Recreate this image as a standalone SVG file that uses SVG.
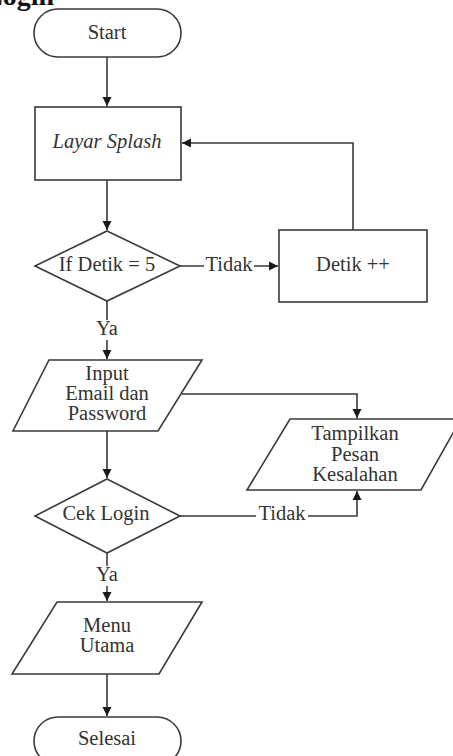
<svg xmlns="http://www.w3.org/2000/svg" width="453" height="756" viewBox="0 0 453 756">
<style>
.s{fill:#fff;stroke:#3a3a3a;stroke-width:1.6}
.c{fill:none;stroke:#3a3a3a;stroke-width:1.6}
text{font-family:"Liberation Serif","Times New Roman",serif;font-size:20.5px;fill:#333;text-anchor:middle}
.lb{fill:#fff;stroke:none}
</style>
<defs>
<marker id="ah" markerWidth="10" markerHeight="10" refX="9" refY="5" orient="auto" markerUnits="userSpaceOnUse">
<path d="M0,0.5 L9,5 L0,9.5 Z" fill="#1a1a1a"/>
</marker>
</defs>
<rect width="453" height="756" fill="#fff"/>
<text x="-16" y="5" style="font-size:28px;font-weight:bold;text-anchor:start;fill:#111">Login</text>
<g id="connectors">
<path class="c" d="M107 57 V106" marker-end="url(#ah)"/>
<path class="c" d="M107 180 V230" marker-end="url(#ah)"/>
<path class="c" d="M180 266 H278" marker-end="url(#ah)"/>
<path class="c" d="M353 230 V143 H182" marker-end="url(#ah)"/>
<path class="c" d="M107 301 V359" marker-end="url(#ah)"/>
<path class="c" d="M182 394 H357 V418" marker-end="url(#ah)"/>
<path class="c" d="M107 431 V478" marker-end="url(#ah)"/>
<path class="c" d="M180 516 H357 V491" marker-end="url(#ah)"/>
<path class="c" d="M107 553 V601" marker-end="url(#ah)"/>
<path class="c" d="M107 674 V716" marker-end="url(#ah)"/>
<rect class="lb" x="204" y="256" width="50" height="20"/>
<text x="229" y="271">Tidak</text>
<rect class="lb" x="95" y="320" width="24" height="20"/>
<text x="107" y="335">Ya</text>
<rect class="lb" x="256" y="506" width="52" height="20"/>
<text x="282" y="520">Tidak</text>
<rect class="lb" x="95" y="566" width="24" height="20"/>
<text x="107" y="581">Ya</text>
</g>
<g id="start">
<rect class="s" x="34" y="9" width="147" height="48" rx="24" ry="24"/>
<text x="107" y="39">Start</text>
</g>
<g id="layar-splash">
<rect class="s" x="35" y="107" width="146" height="73"/>
<text x="107" y="148" style="font-style:italic">Layar Splash</text>
</g>
<g id="if-detik">
<polygon class="s" points="107,231 180,266 107,301 35,266"/>
<text x="107" y="271">If Detik = 5</text>
</g>
<g id="detik-inc">
<rect class="s" x="279" y="230" width="148" height="72"/>
<text x="353" y="271">Detik ++</text>
</g>
<g id="input">
<polygon class="s" points="49,360 202,360 158,431 13,431"/>
<text x="107" y="380">Input</text>
<text x="107" y="400">Email dan</text>
<text x="107" y="420">Password</text>
</g>
<g id="tampilkan">
<polygon class="s" points="290,419 461,419 421,490 247,490"/>
<text x="355" y="440">Tampilkan</text>
<text x="355" y="461">Pesan</text>
<text x="355" y="481">Kesalahan</text>
</g>
<g id="cek-login">
<polygon class="s" points="107,479 180,516 107,553 35,516"/>
<text x="106" y="520">Cek Login</text>
</g>
<g id="menu-utama">
<polygon class="s" points="57,602 202,602 159,674 12,674"/>
<text x="107" y="632">Menu</text>
<text x="107" y="652">Utama</text>
</g>
<g id="selesai">
<rect class="s" x="34" y="717" width="147" height="48" rx="24" ry="24"/>
<text x="107" y="745">Selesai</text>
</g>
</svg>
